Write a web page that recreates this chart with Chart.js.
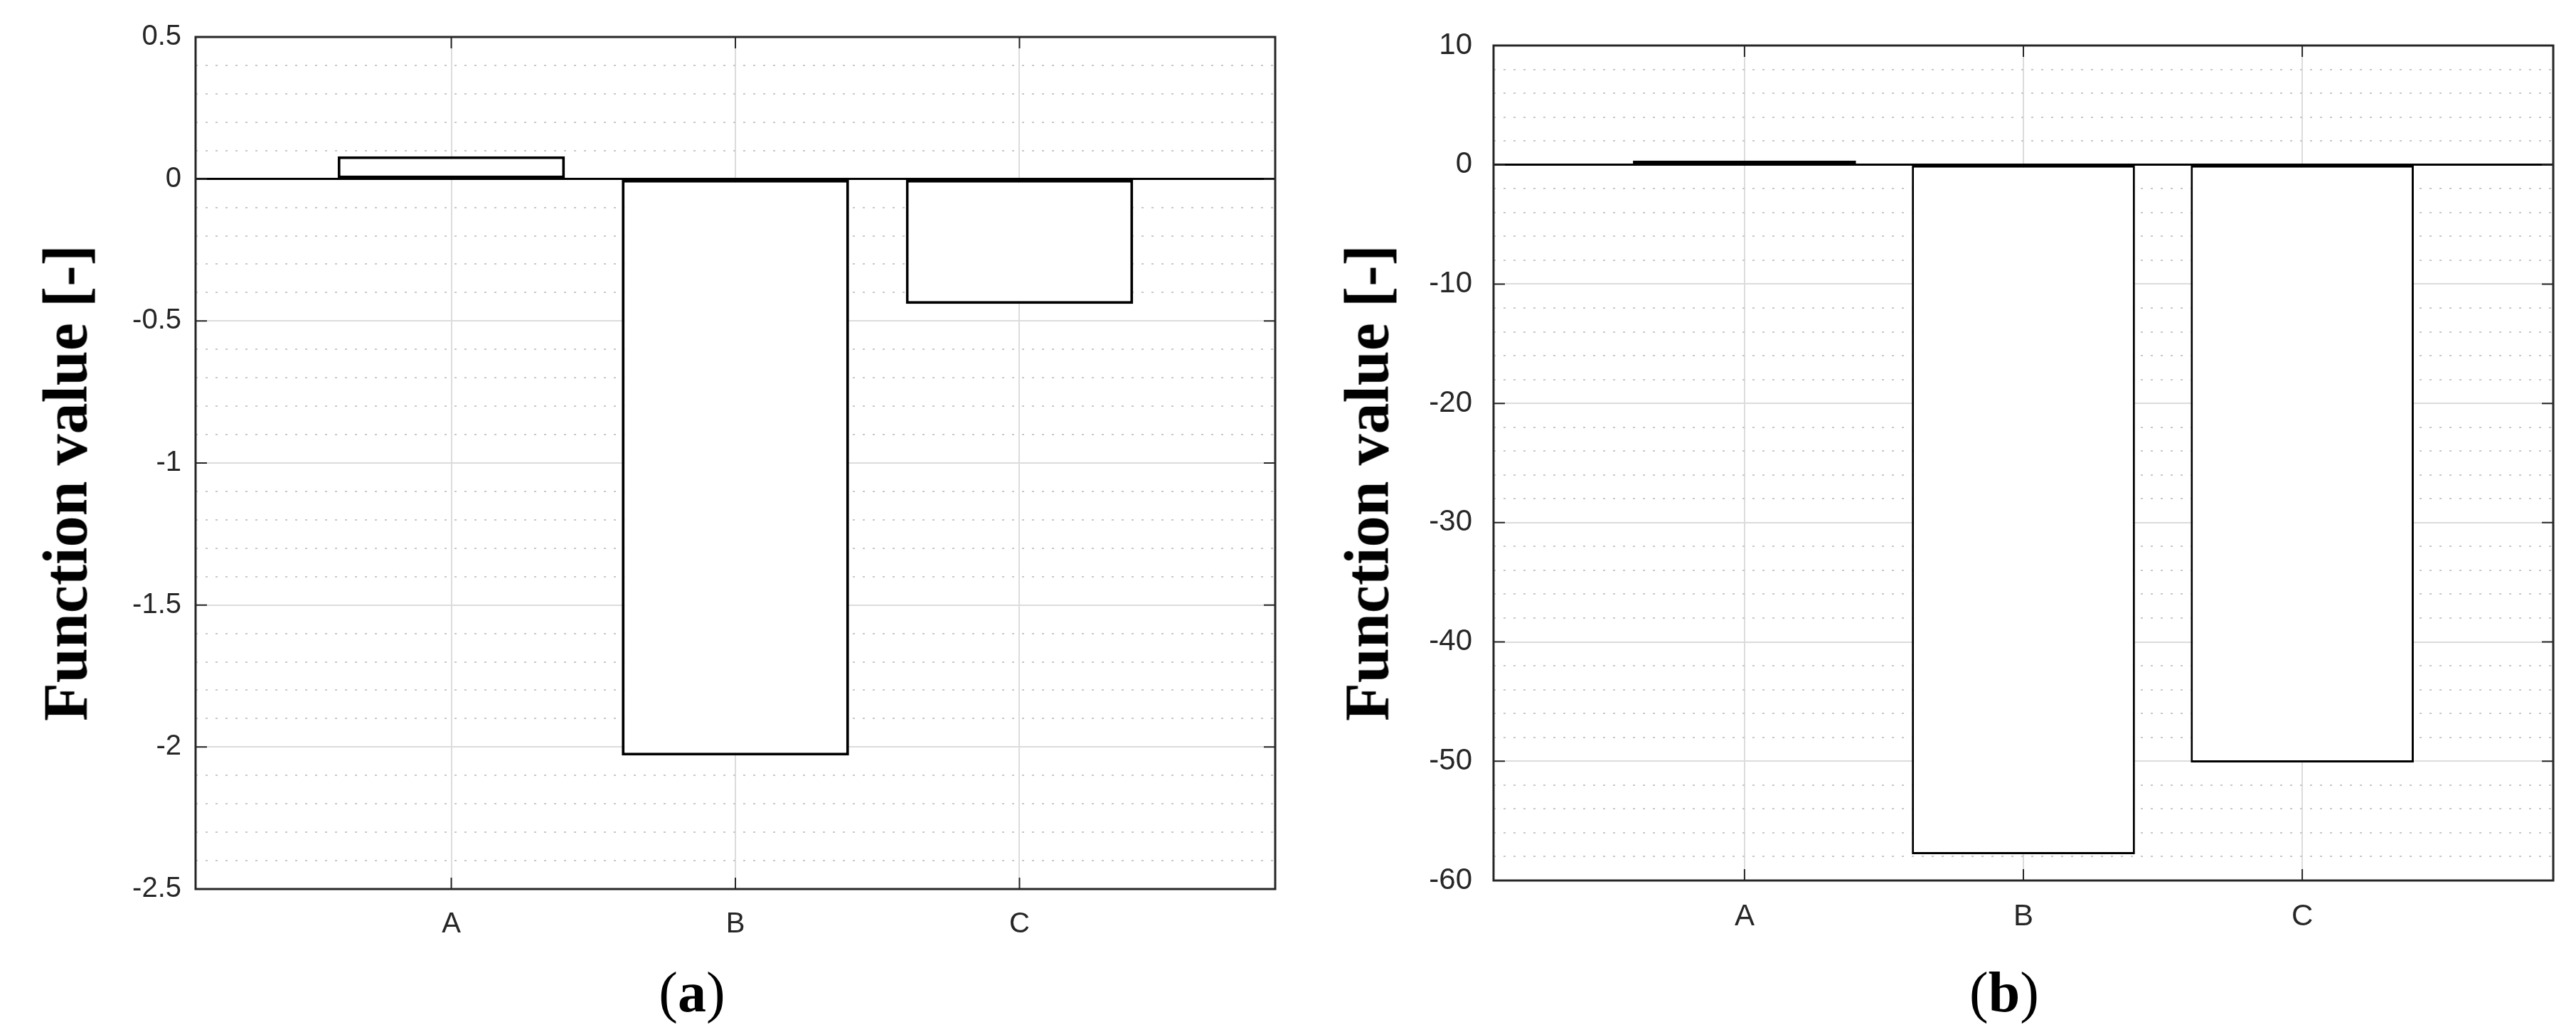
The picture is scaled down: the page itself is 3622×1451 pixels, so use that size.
<!DOCTYPE html>
<html>
<head>
<meta charset="utf-8">
<script src="https://cdn.jsdelivr.net/npm/chart.js@4.4.1/dist/chart.umd.min.js"></script>
<style>
  body { margin: 0; background: #fff; width: 3622px; height: 1451px; position: relative; overflow: hidden; }
  canvas { position: absolute; top: 0; }
  .ylab { position: absolute; font-family: 'Liberation Serif', 'Times New Roman', serif; font-weight: bold; font-size: 88px; color: #000;
          white-space: nowrap; transform: translate(-50%, -50%) rotate(-90deg); }
  .cap { position: absolute; font-family: 'Liberation Serif', 'Times New Roman', serif; font-size: 80px; color: #000;
         white-space: nowrap; transform: translate(-50%, -50%); }
</style>
</head>
<body>
<canvas id="chartA" width="1830" height="1451" style="left:0"></canvas>
<canvas id="chartB" width="1792" height="1451" style="left:1830px"></canvas>
<div class="ylab" style="left:92px;top:679px">Function value [-]</div>
<div class="ylab" style="left:1922px;top:679px">Function value [-]</div>
<div class="cap" style="left:973px;top:1395px">(<b>a</b>)</div>
<div class="cap" style="left:2818px;top:1395px">(<b>b</b>)</div>
<script>
// data
const categories = ['A', 'B', 'C']
const valuesA = [0.08, -2.03, -0.44]
const valuesB = [0.35, -57.8, -50.1]
const yTicksA = [0.5, 0, -0.5, -1, -1.5, -2, -2.5]
const yTicksB = [10, 0, -10, -20, -30, -40, -50, -60]
const minorStepA = 0.1
const minorStepB = 2

const tickFont = "'Liberation Sans', Arial, sans-serif"

// matlab style box + inward tick marks
const boxPlugin = {
  id: 'box',
  afterDatasetsDraw: chart => {
    const { ctx, chartArea: a, scales } = chart
    ctx.save()
    ctx.strokeStyle = '#262626'
    ctx.lineWidth = 3
    ctx.strokeRect(a.left, a.top, a.right - a.left, a.bottom - a.top)
    ctx.lineWidth = 2
    ctx.beginPath()
    scales.y.ticks.forEach(t => {
      const py = scales.y.getPixelForValue(t.value)
      ctx.moveTo(a.left, py); ctx.lineTo(a.left + 16, py)
      ctx.moveTo(a.right, py); ctx.lineTo(a.right - 16, py)
    })
    scales.x.ticks.forEach(t => {
      const px = scales.x.getPixelForValue(t.value)
      ctx.moveTo(px, a.bottom); ctx.lineTo(px, a.bottom - 16)
      ctx.moveTo(px, a.top); ctx.lineTo(px, a.top + 16)
    })
    ctx.stroke()
    ctx.restore()
  }
}

const makeChart = (id, values, yTicks, minorStep, o) => {
  const yMin = Math.min(...yTicks)
  const yMax = Math.max(...yTicks)
  return new Chart(document.getElementById(id), {
    type: 'bar',
    data: {
      datasets: [{
        data: values.map((v, i) => ({ x: i + 1, y: v })),
        backgroundColor: '#ffffff',
        borderColor: '#000000',
        borderWidth: o.barBorder,
        borderSkipped: false,
        barPercentage: 1,
        categoryPercentage: 0.8
      }]
    },
    options: {
      responsive: false,
      animation: false,
      events: [],
      layout: { padding: o.padding },
      plugins: { legend: { display: false }, tooltip: { enabled: false } },
      scales: {
        x: {
          type: 'linear',
          min: 0.1,
          max: 3.9,
          offset: false,
          afterBuildTicks: s => { s.ticks = categories.map((c, i) => ({ value: i + 1 })) },
          afterFit: s => { s.height = o.xHeight },
          ticks: {
            callback: v => categories[v - 1],
            font: { family: tickFont, size: o.fontSize },
            color: '#262626',
            padding: 26,
            maxRotation: 0
          },
          grid: { color: '#dcdcdc', lineWidth: 2, drawTicks: false, offset: false },
          border: { display: false }
        },
        yMinor: {
          type: 'linear',
          axis: 'y',
          position: 'left',
          min: yMin,
          max: yMax,
          z: -1,
          afterBuildTicks: s => {
            const t = []
            for (let v = yMin; v <= yMax + 1e-9; v += minorStep) t.push({ value: +v.toFixed(4) })
            s.ticks = t
          },
          afterFit: s => { s.width = 0 },
          ticks: { display: false },
          grid: { color: '#c8c8c8', lineWidth: 2, drawTicks: false },
          border: { display: false, dash: [3, 11] }
        },
        y: {
          type: 'linear',
          position: 'left',
          min: yMin,
          max: yMax,
          afterBuildTicks: s => { s.ticks = yTicks.map(v => ({ value: v })) },
          afterFit: s => { s.width = o.yWidth },
          ticks: {
            callback: v => String(v),
            font: { family: tickFont, size: o.fontSize },
            color: '#262626',
            padding: o.yPad
          },
          grid: {
            color: c => c.tick && c.tick.value === 0 ? '#000000' : '#dcdcdc',
            lineWidth: c => c.tick && c.tick.value === 0 ? 3 : 2,
            drawTicks: false
          },
          border: { display: false }
        }
      }
    },
    plugins: [boxPlugin]
  })
}

makeChart('chartA', valuesA, yTicksA, minorStepA, {
  barBorder: 4, fontSize: 40, yPad: 20, yWidth: 275, xHeight: 201,
  padding: { left: 0, right: 37, top: 52, bottom: 0 }
})
makeChart('chartB', valuesB, yTicksB, minorStepB, {
  barBorder: 3, fontSize: 42, yPad: 30, yWidth: 270, xHeight: 213,
  padding: { left: 0, right: 32, top: 64, bottom: 0 }
})
</script>
</body>
</html>
